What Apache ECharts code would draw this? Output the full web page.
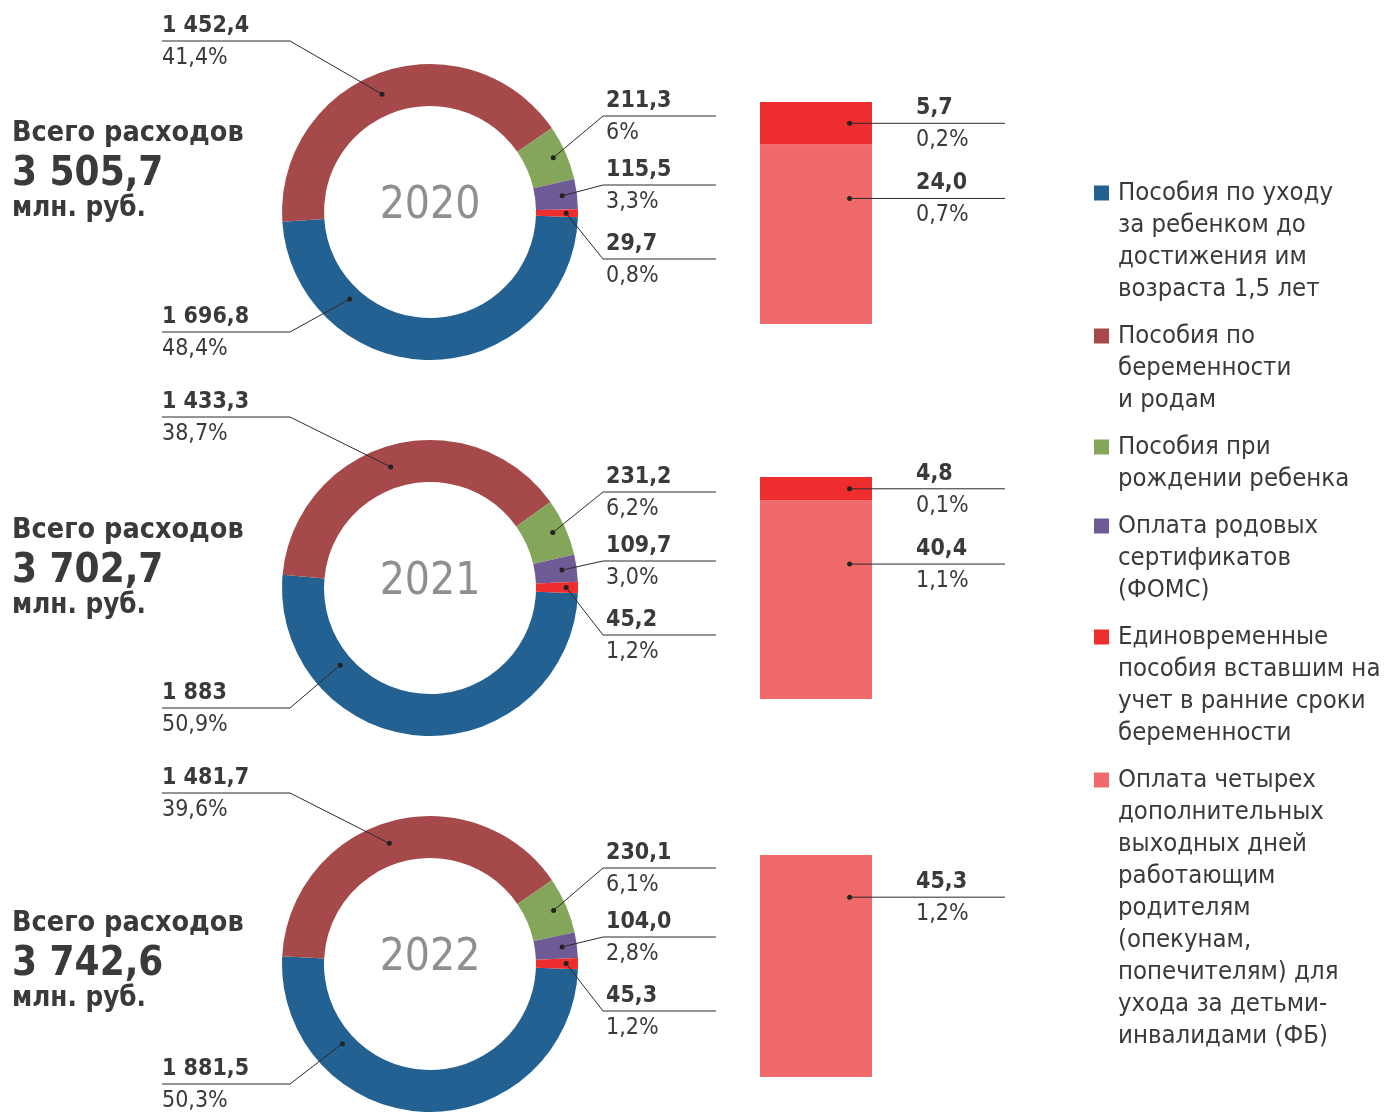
<!DOCTYPE html>
<html>
<head>
<meta charset="utf-8">
<script src="https://cdn.jsdelivr.net/npm/echarts@6/dist/echarts.min.js"></script>
<style>
  html, body { margin: 0; padding: 0; background: #fff; }
  #main { width: 1387px; height: 1113px; }
</style>
</head>
<body>
<div id="main"></div>
<script>
// --- данные ---
var years = ['2020', '2021', '2022'];
var totalText = ['3 505,7', '3 702,7', '3 742,6'];

var names = [
  'Пособия по уходу за ребенком до достижения им возраста 1,5 лет',
  'Пособия по беременности и родам',
  'Пособия при рождении ребенка',
  'Оплата родовых сертификатов (ФОМС)',
  'Единовременные пособия вставшим на учет в ранние сроки беременности',
  'Оплата четырех дополнительных выходных дней работающим родителям (опекунам, попечителям) для ухода за детьми-инвалидами (ФБ)'
];
var legendLines = [
  ['Пособия по уходу', 'за ребенком до', 'достижения им', 'возраста 1,5 лет'],
  ['Пособия по', 'беременности', 'и родам'],
  ['Пособия при', 'рождении ребенка'],
  ['Оплата родовых', 'сертификатов', '(ФОМС)'],
  ['Единовременные', 'пособия вставшим на', 'учет в ранние сроки', 'беременности'],
  ['Оплата четырех', 'дополнительных', 'выходных дней', 'работающим', 'родителям', '(опекунам,', 'попечителям) для', 'ухода за детьми-', 'инвалидами (ФБ)']
];

var values2020 = [1696.8, 1452.4, 211.3, 115.5, 29.7];
var values2021 = [1883, 1433.3, 231.2, 109.7, 45.2];
var values2022 = [1881.5, 1481.7, 230.1, 104.0, 45.3];

var valueText2020 = ['1 696,8', '1 452,4', '211,3', '115,5', '29,7'];
var valueText2021 = ['1 883', '1 433,3', '231,2', '109,7', '45,2'];
var valueText2022 = ['1 881,5', '1 481,7', '230,1', '104,0', '45,3'];

var pct2020 = ['48,4%', '41,4%', '6%', '3,3%', '0,8%'];
var pct2021 = ['50,9%', '38,7%', '6,2%', '3,0%', '1,2%'];
var pct2022 = ['50,3%', '39,6%', '6,1%', '2,8%', '1,2%'];

// расшифровка малого сектора
var oneTime = [5.7, 4.8, 0];
var fourDays = [24.0, 40.4, 45.3];
var oneTimeText = ['5,7', '4,8', ''];
var fourDaysText = ['24,0', '40,4', '45,3'];
var oneTimePct = ['0,2%', '0,1%', ''];
var fourDaysPct = ['0,7%', '1,1%', '1,2%'];

// --- оформление ---
var colors = ['#236192', '#A5494A', '#84A65B', '#6E5B96', '#EE2E2E', '#F0696B'];
var FONT = '"DejaVu Sans Condensed", "DejaVu Sans", sans-serif';
var TXT = '#3a3a3a';
var pieX = 430, pieY = [212, 588, 964];
var R_IN = 106, R_OUT = 148, START = 358;
var dotR = [0.80, 0.86, 0.91, 0.90, 0.92];     // радиус точки выноски (доля внешнего)
var anchorAt = [0.75, 0.48, 0.5, 0.5, 0.5];    // где на секторе начинается выноска
var labelDy = [120, -171, -96, -27, 47];       // строка подписи относительно центра кольца
var totalTop = [116, 513, 906];
var barTop = [102, 477, 855];
var pinkAnchor = [0.70, 0.68, 0.81];
var LEG_FS = 25.5;

var valuesByYear = [values2020, values2021, values2022];
var textByYear = [valueText2020, valueText2021, valueText2022];
var pctByYear = [pct2020, pct2021, pct2022];

var labelRich = {
  v: { fontFamily: FONT, fontSize: 23, fontWeight: 'bold', color: TXT, lineHeight: 32 },
  p: { fontFamily: FONT, fontSize: 23, color: TXT, lineHeight: 32 }
};

var option = {
  animation: false,
  textStyle: { fontFamily: FONT },
  title: [],
  legend: [],
  polar: [],
  angleAxis: [],
  radiusAxis: [],
  grid: [],
  xAxis: [],
  yAxis: [],
  series: []
};

// легенда: значок + первая строка, остальные строки - отдельным текстом
var legY = 193;
legendLines.forEach(function (lines, i) {
  option.legend.push({
    left: 1094,
    top: legY - 13,
    padding: 0,
    itemWidth: 15,
    itemHeight: 15,
    icon: 'rect',
    selectedMode: false,
    data: [names[i]],
    formatter: function () { return lines[0]; },
    textStyle: { fontFamily: FONT, fontSize: LEG_FS, color: TXT, padding: [0, 0, 0, 4] }
  });
  option.title.push({
    text: lines.slice(1).join('\n'),
    left: 1118,
    top: legY + 16,
    padding: 0,
    textStyle: { fontFamily: FONT, fontSize: LEG_FS, fontWeight: 'normal', color: TXT, lineHeight: 32 }
  });
  legY += lines.length * 32 + 15;
});

var donutDots = [], barDots = [];

years.forEach(function (year, k) {
  var vals = valuesByYear[k];
  var total = vals.reduce(function (a, b) { return a + b; }, 0);

  option.title.push({
    text: year,
    left: pieX,
    top: pieY[k] - 5,
    textAlign: 'center',
    textVerticalAlign: 'middle',
    padding: 0,
    textStyle: { fontFamily: FONT, fontSize: 44, fontWeight: 'normal', color: '#8F8F8F' }
  });
  option.title.push({
    text: '{a|Всего расходов}\n{b|' + totalText[k] + '}\n{c|млн. руб.}',
    left: 12,
    top: totalTop[k],
    padding: 0,
    textStyle: {
      rich: {
        a: { fontFamily: FONT, fontSize: 28.5, fontWeight: 'bold', color: TXT, lineHeight: 36 },
        b: { fontFamily: FONT, fontSize: 40, fontWeight: 'bold', color: TXT, lineHeight: 46 },
        c: { fontFamily: FONT, fontSize: 27.5, fontWeight: 'bold', color: TXT, lineHeight: 22 }
      }
    }
  });

  // кольцо
  option.series.push({
    type: 'pie',
    center: [pieX, pieY[k]],
    radius: [R_IN, R_OUT],
    startAngle: START,
    silent: true,
    label: { show: false },
    labelLine: { show: false },
    data: vals.map(function (v, i) {
      return { name: names[i], value: v, itemStyle: { color: colors[i] } };
    })
  });

  // точки выносок на кольце (полярная система поверх кольца)
  option.polar.push({ center: [pieX, pieY[k]], radius: [0, R_OUT] });
  option.angleAxis.push({ polarIndex: k, type: 'value', min: 0, max: total, startAngle: START, clockwise: true, show: false });
  option.radiusAxis.push({ polarIndex: k, type: 'value', min: 0, max: 1, show: false });

  var cum = 0;
  var pts = vals.map(function (v, i) {
    var a = cum + v * anchorAt[i];
    cum += v;
    return {
      value: [dotR[i], a],
      label: { formatter: '{v|' + textByYear[k][i] + '}\n{p|' + pctByYear[k][i] + '}' }
    };
  });
  donutDots.push({ series: option.series.length, points: pts.map(function (p) { return p.value; }) });
  option.series.push({
    type: 'scatter',
    coordinateSystem: 'polar',
    polarIndex: k,
    symbolSize: 5,
    itemStyle: { color: '#222', opacity: 1 },
    silent: true,
    z: 5,
    label: { show: true, rich: labelRich },
    labelLayout: function (p) {
      var y = pieY[k] + labelDy[p.dataIndex] + 1;
      return { x: p.dataIndex < 2 ? 162 : 606, y: y, align: 'left', verticalAlign: 'middle' };
    },
    data: pts
  });

  // столбец-расшифровка
  option.grid.push({ left: 760, top: barTop[k], width: 112, height: 222 });
  option.xAxis.push({ gridIndex: k, type: 'category', data: [year], show: false });
  option.xAxis.push({ gridIndex: k, type: 'value', min: 0, max: 1, show: false });
  option.yAxis.push({ gridIndex: k, type: 'value', min: 0, max: 'dataMax', show: false });

  option.series.push({
    type: 'bar', name: names[5], xAxisIndex: 2 * k, yAxisIndex: k, stack: 'b' + k,
    barWidth: '100%', silent: true, itemStyle: { color: colors[5] },
    data: [fourDays[k]]
  });
  option.series.push({
    type: 'bar', name: names[4], xAxisIndex: 2 * k, yAxisIndex: k, stack: 'b' + k,
    barWidth: '100%', silent: true, itemStyle: { color: colors[4] },
    data: [oneTime[k]]
  });

  var barPts = [];
  if (oneTime[k] > 0) {
    barPts.push({
      value: [0.8, fourDays[k] + oneTime[k] / 2],
      label: { formatter: '{v|' + oneTimeText[k] + '}\n{p|' + oneTimePct[k] + '}' }
    });
  }
  barPts.push({
    value: [0.8, fourDays[k] * pinkAnchor[k]],
    label: { formatter: '{v|' + fourDaysText[k] + '}\n{p|' + fourDaysPct[k] + '}' }
  });
  barDots.push({ series: option.series.length, points: barPts.map(function (p) { return p.value; }) });
  option.series.push({
    type: 'scatter',
    xAxisIndex: 2 * k + 1,
    yAxisIndex: k,
    symbolSize: 5,
    itemStyle: { color: '#222', opacity: 1 },
    silent: true,
    z: 5,
    label: { show: true, rich: labelRich },
    labelLayout: function (p) {
      var cy = p.rect.y + p.rect.height / 2;
      return { x: 916, y: cy + 1, align: 'left', verticalAlign: 'middle' };
    },
    data: barPts
  });
});

var chart = echarts.init(document.getElementById('main'), null, { renderer: 'canvas' });
chart.setOption(option);

// линии выносок: от точки (через координаты ECharts) к строке подписи
var leaders = [];
function leader(points) {
  leaders.push({
    type: 'polyline',
    z: 100,
    silent: true,
    shape: { points: points },
    style: { stroke: '#2a2a2a', lineWidth: 1, fill: null }
  });
}
donutDots.forEach(function (d, k) {
  d.points.forEach(function (v, i) {
    var pt = chart.convertToPixel({ seriesIndex: d.series }, v);
    var y = pieY[k] + labelDy[i];
    if (i < 2) leader([pt, [290, y], [162, y]]);
    else leader([pt, [603, y], [716, y]]);
  });
});
barDots.forEach(function (d) {
  d.points.forEach(function (v) {
    var pt = chart.convertToPixel({ seriesIndex: d.series }, v);
    leader([pt, [1005, pt[1]]]);
  });
});
chart.setOption({ graphic: { elements: leaders } });
</script>
</body>
</html>
